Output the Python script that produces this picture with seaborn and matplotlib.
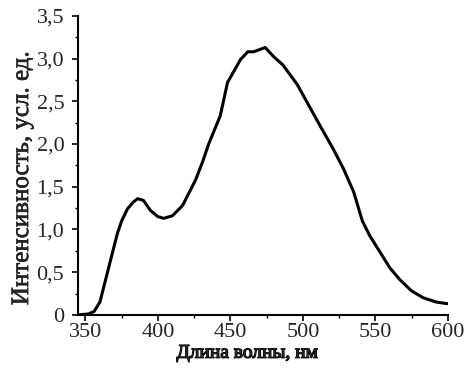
import matplotlib
matplotlib.use('Agg')
import matplotlib.pyplot as plt
import matplotlib.patheffects as pe
import seaborn as sns
import pandas as pd
from matplotlib.ticker import FuncFormatter, MultipleLocator

sns.set_style('ticks')
plt.rcParams['font.family'] = ['Liberation Serif', 'DejaVu Serif']

# длина волны, нм
wavelength = [345, 352, 356, 360, 363, 366, 369, 372, 375, 379, 383, 386, 390, 395,
              400, 404, 410, 417, 423, 426, 431, 435, 443, 448, 457, 462,
              466, 474, 480, 486, 496, 512, 521, 528, 535, 541, 546, 553,
              560, 567, 575, 583, 592, 600]
# интенсивность, усл. ед.
intensity = [0.0, 0.01, 0.04, 0.15, 0.35, 0.55, 0.75, 0.95, 1.10, 1.24, 1.32, 1.36, 1.34, 1.22,
             1.15, 1.13, 1.16, 1.28, 1.48, 1.58, 1.80, 2.00, 2.33, 2.72, 2.99, 3.08,
             3.08, 3.13, 3.02, 2.93, 2.70, 2.21, 1.94, 1.71, 1.44, 1.10, 0.93, 0.74,
             0.55, 0.41, 0.28, 0.20, 0.15, 0.13]

df = pd.DataFrame({'wl': wavelength, 'I': intensity})

fig = plt.figure(figsize=(4.68, 3.70), dpi=100)
ax = fig.add_axes([0.167, 0.149, 0.790, 0.808])
sns.lineplot(data=df, x='wl', y='I', color='black', linewidth=2.2, ax=ax)

ax.set_xlim(345, 600)
ax.set_ylim(0, 3.5)
ax.xaxis.set_major_locator(MultipleLocator(50))
ax.xaxis.set_minor_locator(MultipleLocator(25))
ax.yaxis.set_major_locator(MultipleLocator(0.5))
ax.yaxis.set_minor_locator(MultipleLocator(0.25))
ax.yaxis.set_major_formatter(FuncFormatter(
    lambda v, p: '0' if abs(v) < 1e-9 else f'{v:.1f}'.replace('.', ',')))

ax.tick_params(which='major', length=4, width=1.2, labelsize=16, color='black', pad=2)
ax.tick_params(axis='y', which='major', pad=6)
ax.tick_params(which='minor', length=2, width=1, color='black')
for s in ['top', 'right']:
    ax.spines[s].set_visible(False)
for s in ['left', 'bottom']:
    ax.spines[s].set_linewidth(1.5)
    ax.spines[s].set_color('black')

# жирность имитируем обводкой (bold у Liberation Serif выходит курсивом)
ax.set_xlabel('Длина волны, нм', fontsize=14,
              path_effects=[pe.withStroke(linewidth=0.9, foreground='black')])
ax.set_ylabel('Интенсивность, усл. ед.', fontsize=18,
              path_effects=[pe.withStroke(linewidth=0.4, foreground='black')])
ax.xaxis.set_label_coords(0.457, -0.1)
ax.yaxis.set_label_coords(-0.122, 0.458)

fig.savefig('out.png', dpi=100)
